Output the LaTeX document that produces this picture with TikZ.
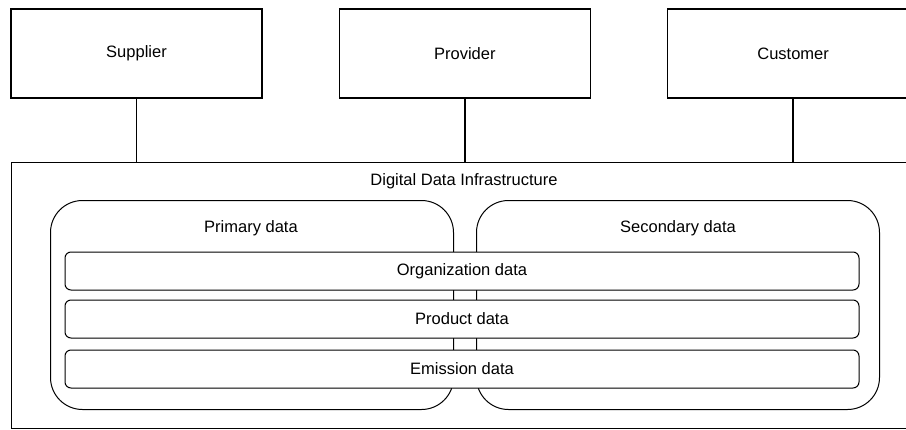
\documentclass[tikz,border=0pt]{standalone}
\usepackage{fontspec}
\setmainfont{Liberation Sans}
\usetikzlibrary{positioning}
\tikzset{
    party/.style={
        rectangle,
        draw=black,
        line width=1.3pt,
        fill=white,
        minimum width=251pt,
        minimum height=89pt,
        align=center,
        font=\fontsize{16.5}{19}\selectfont
    },
    infra/.style={
        rectangle,
        draw=black,
        line width=1.3pt,
        minimum width=907pt,
        minimum height=266pt,
        anchor=north west
    },
    datagroup/.style={
        rectangle,
        draw=black,
        line width=1pt,
        rounded corners=32pt,
        minimum width=403pt,
        minimum height=209pt,
        anchor=north west
    },
    databar/.style={
        rectangle,
        draw=black,
        line width=1pt,
        fill=white,
        rounded corners=6pt,
        minimum width=794pt,
        minimum height=38pt,
        font=\fontsize{16.5}{19}\selectfont
    },
    link/.style={
        line width=1.5pt
    },
    heading/.style={
        font=\fontsize{16.5}{19}\selectfont
    }
}

\begin{document}
\begin{tikzpicture}[x=1pt, y=-1pt]

    \useasboundingbox (0,0) rectangle (906,429);

    % Parties on top
    \node[party] (supplier) at (136.5,53.5) {Supplier};
    \node[party, right=76pt of supplier] (provider) {Provider};
    \node[party, right=76pt of provider] (customer) {Customer};

    % Infrastructure frame
    \node[infra] (ddi) at (11,162) {};
    \node[heading] (ddititle) at (464,181) {Digital Data Infrastructure};

    % Primary and secondary data groups
    \node[datagroup] (primary) at (50,200) {};
    \node[heading] (primarytitle) at (251,228) {Primary data};
    \node[datagroup] (secondary) at (476,200) {};
    \node[heading] (secondarytitle) at (678,228) {Secondary data};

    % Data layers across both groups
    \node[databar] (orgdata) at (462,271) {Organization data};
    \node[databar, below=9pt of orgdata] (productdata) {Product data};
    \node[databar, below=11pt of productdata] (emissiondata) {Emission data};

    % Connections to the infrastructure
    \draw[link] (supplier.south) -- (supplier.south |- ddi.north);
    \draw[link] (provider.south) -- (provider.south |- ddi.north);
    \draw[link] (customer.south) -- (customer.south |- ddi.north);

\end{tikzpicture}
\end{document}
